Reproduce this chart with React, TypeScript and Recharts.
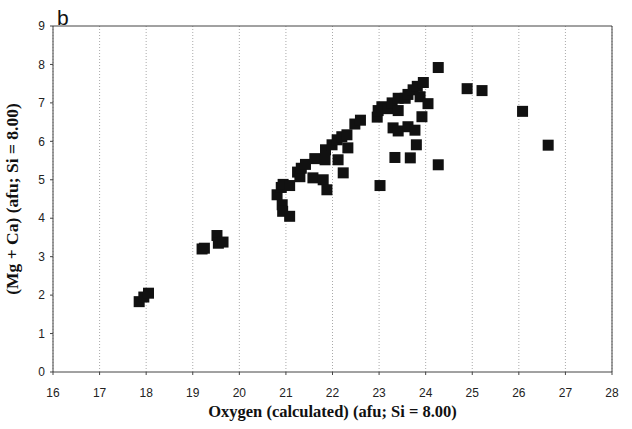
import {
  ScatterChart,
  Scatter,
  XAxis,
  YAxis,
  CartesianGrid,
  ReferenceLine,
  Label,
} from "recharts"

// oxygen (calculated) per formula unit, Si = 8.00
const oxygen = [
  17.85, 17.95, 18.05,
  19.2, 19.25, 19.52, 19.55, 19.65,
  20.81, 20.9, 20.94, 21.08, 20.92, 20.93, 21.08,
  21.25, 21.3, 21.33, 21.42, 21.58, 21.62, 21.8, 21.84, 21.88, 21.85,
  21.99, 22.1, 22.12, 22.2, 22.23, 22.31, 22.33, 22.48, 22.6,
  22.96, 22.98, 23.02, 23.06, 23.19, 23.28, 23.3, 23.34, 23.41, 23.41,
  23.41, 23.56, 23.62, 23.62, 23.67, 23.73, 23.77, 23.8, 23.82, 23.88,
  23.92, 23.95, 24.05, 24.27, 24.27,
  24.89, 25.21, 26.08, 26.63,
]

// Mg + Ca per formula unit
const mgCa = [
  1.83, 1.95, 2.05,
  3.2, 3.22, 3.55, 3.35, 3.38,
  4.61, 4.8, 4.88, 4.85, 4.35, 4.18, 4.05,
  5.2, 5.08, 5.3, 5.4, 5.05, 5.55, 5.0, 5.52, 4.74, 5.78,
  5.91, 6.04, 5.52, 6.12, 5.18, 6.17, 5.83, 6.45, 6.55,
  6.63, 6.8, 4.85, 6.9, 6.85, 7.0, 6.35, 5.58, 6.8, 6.27,
  7.12, 7.12, 6.38, 7.22, 5.57, 7.34, 6.29, 5.91, 7.43, 7.16,
  6.64, 7.53, 6.98, 7.92, 5.39,
  7.37, 7.32, 6.78, 5.9,
]

const xTicks = [16, 17, 18, 19, 20, 21, 22, 23, 24, 25, 26, 27, 28]
const yTicks = [0, 1, 2, 3, 4, 5, 6, 7, 8, 9]

const points = oxygen.map((o, i) => ({ o, m: mgCa[i] }))

const tickStyle = { fontFamily: "'Liberation Sans', Arial, sans-serif", fontSize: 12, fill: "#222" }
const titleFont = "'Liberation Serif', 'Times New Roman', serif"

const SquareDot = (props: any) => {
  const { cx, cy } = props
  if (cx == null || cy == null) return null
  return <rect x={cx - 5.5} y={cy - 5.5} width={11} height={11} fill="#111" />
}

export default function App() {
  return (
    <div style={{ position: "absolute", left: 0, top: 0, width: 632, height: 429, background: "#fff" }}>
      <ScatterChart
        width={632}
        height={429}
        margin={{ top: 26, right: 20, bottom: 0, left: 13 }}
      >
        <CartesianGrid horizontal={false} stroke="#aaa" strokeDasharray="1 2" />
        <XAxis
          type="number"
          dataKey="o"
          domain={[16, 28]}
          ticks={xTicks}
          interval={0}
          height={57}
          tick={tickStyle}
          tickSize={3}
          tickMargin={13}
          stroke="#444"
        >
          <Label
            value="Oxygen (calculated) (afu; Si = 8.00)"
            position="insideBottom"
            offset={12}
            style={{ fontFamily: titleFont, fontWeight: "bold", fontSize: 16.5, fill: "#111" }}
          />
        </XAxis>
        <YAxis
          type="number"
          dataKey="m"
          domain={[0, 9]}
          ticks={yTicks}
          interval={0}
          width={40}
          tick={tickStyle}
          tickSize={3}
          tickMargin={5}
          stroke="#444"
        >
          <Label
            value="(Mg + Ca) (afu; Si = 8.00)"
            angle={-90}
            position="insideLeft"
            offset={-1}
            style={{ textAnchor: "middle", fontFamily: titleFont, fontWeight: "bold", fontSize: 17.5, fill: "#111" }}
          />
        </YAxis>
        <ReferenceLine y={9} stroke="#444" />
        <ReferenceLine x={28} stroke="#444" />
        <Scatter data={points} shape={SquareDot} isAnimationActive={false} />
        <text
          x={57}
          y={25}
          style={{ fontFamily: "'Liberation Sans', Arial, sans-serif", fontSize: 21, fill: "#111" }}
        >
          b
        </text>
      </ScatterChart>
    </div>
  )
}
